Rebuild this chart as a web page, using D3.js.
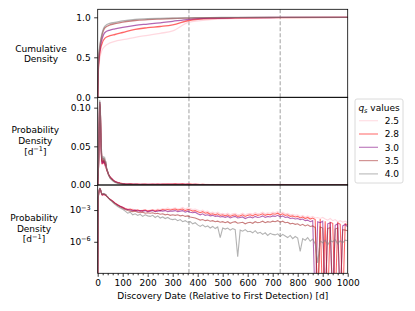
<!DOCTYPE html>
<html>
<head>
<meta charset="utf-8">
<script src="https://cdn.jsdelivr.net/npm/d3@7"></script>
<style>
body { margin: 0; background: #fff; }
svg { display: block; font-family: "DejaVu Sans", sans-serif; }
</style>
</head>
<body>
<div id="chart"></div>
<script>
// q_s series shown in the legend
var qsValues = ["2.5", "2.8", "3.0", "3.5", "4.0"];
var qsColors = ["#ffc0cb", "#ff0000", "#800080", "#a52a2a", "#808080"];

// cumulative density
var cdfDays = [0, 3, 9, 16, 29, 49, 69, 100, 150, 200, 250, 300, 365, 450, 550, 730, 1000];
var cdf25 = [0, 0.33, 0.50, 0.58, 0.64, 0.68, 0.70, 0.72, 0.75, 0.775, 0.80, 0.83, 0.94, 0.97, 0.985, 0.995, 1.0];
var cdf28 = [0, 0.37, 0.56, 0.66, 0.74, 0.77, 0.785, 0.81, 0.85, 0.87, 0.885, 0.905, 0.96, 0.985, 0.992, 0.997, 1.0];
var cdf30 = [0, 0.40, 0.60, 0.71, 0.81, 0.84, 0.855, 0.875, 0.90, 0.915, 0.93, 0.95, 0.975, 0.99, 0.995, 0.998, 1.0];
var cdf35 = [0, 0.43, 0.64, 0.76, 0.87, 0.905, 0.92, 0.94, 0.96, 0.97, 0.978, 0.985, 0.99, 0.995, 0.997, 0.999, 1.0];
var cdf40 = [0, 0.45, 0.66, 0.78, 0.89, 0.925, 0.935, 0.955, 0.975, 0.982, 0.987, 0.99, 0.994, 0.997, 0.998, 0.999, 1.0];

// probability density (log10 of d^-1), -12 = empty bin
var pdfDays = [0, 2, 4, 6, 8, 10, 12, 14, 16, 18, 20, 22, 24, 26, 28, 30, 32, 35, 38, 41, 44, 47, 50, 55, 60, 65, 70, 75, 80, 90, 100]
  .concat(d3.range(110, 1010, 10));
var logPdf25 = [-12,-1.9,-1.45,-1.12,-0.97,-1.0,-1.15,-1.35,-1.5,-1.58,-1.52,-1.56,-1.5,-1.55,-1.53,-1.6,-1.58,-1.7,-1.76,-1.82,-1.9,-1.95,-2.0,-2.05,-2.15,-2.25,-2.35,-2.42,-2.5,-2.62,-2.72,
  -2.85,-2.9,-2.95,-2.9,-3.0,-2.95,-3.05,-3.0,-2.95,-3.05,
  -3.0,-2.95,-3.0,-2.9,-2.95,-2.85,-2.9,-2.8,-2.9,-2.85,
  -2.8,-2.9,-2.85,-2.75,-2.9,-2.8,-2.85,-2.95,-2.9,-3.0,
  -3.1,-3.0,-3.15,-3.1,-3.25,-3.2,-3.3,-3.2,-3.35,-3.3,
  -3.4,-3.3,-3.45,-3.35,-3.3,-3.45,-3.4,-3.3,-3.45,-3.35,
  -3.3,-3.4,-3.25,-3.35,-3.3,-3.2,-3.35,-3.25,-3.3,-3.2,
  -3.25,-3.15,-3.3,-3.2,-3.35,-3.3,-3.45,-3.4,-3.5,-3.45,
  -3.6,-3.5,-3.65,-3.55,-3.7,-3.6,-3.75,-3.7,-3.8,-3.7,
  -3.85,-3.95,-3.8,-4.0,-3.9,-4.1,-4.0,-4.15,-4.05,-4.2];
var logPdf28 = [-12,-1.88,-1.47,-1.14,-0.98,-1.0,-1.13,-1.33,-1.48,-1.57,-1.52,-1.55,-1.5,-1.54,-1.53,-1.6,-1.57,-1.68,-1.74,-1.8,-1.88,-1.93,-2.0,-2.07,-2.16,-2.26,-2.36,-2.43,-2.5,-2.63,-2.73,
  -2.85,-2.95,-2.9,-3.0,-3.05,-3.0,-3.1,-3.05,-3.0,-3.1,
  -3.05,-3.0,-3.1,-3.0,-3.05,-2.95,-3.0,-2.95,-3.0,-2.95,
  -2.9,-3.0,-2.95,-2.9,-3.05,-2.95,-3.0,-3.1,-3.05,-3.15,
  -3.25,-3.15,-3.3,-3.25,-3.4,-3.35,-3.45,-3.35,-3.5,-3.45,
  -3.55,-3.45,-3.6,-3.5,-3.45,-3.6,-3.55,-3.45,-3.6,-3.5,
  -3.45,-3.55,-3.4,-3.5,-3.45,-3.35,-3.5,-3.4,-3.45,-3.35,
  -3.4,-3.3,-3.45,-3.35,-3.5,-3.45,-3.6,-3.55,-3.65,-3.6,
  -3.75,-3.65,-3.8,-3.7,-3.85,-3.75,-3.9,-12,-3.85,-12,
  -4.05,-12,-4.15,-4.25,-12,-4.2,-4.35,-12,-4.3,-4.4];
var logPdf30 = [-12,-1.87,-1.46,-1.13,-0.97,-1.0,-1.14,-1.34,-1.48,-1.56,-1.51,-1.54,-1.49,-1.53,-1.52,-1.58,-1.56,-1.67,-1.73,-1.8,-1.88,-1.94,-2.01,-2.08,-2.17,-2.27,-2.37,-2.44,-2.52,-2.65,-2.75,
  -2.9,-2.95,-3.0,-3.05,-3.0,-3.1,-3.05,-3.1,-3.05,-3.15,
  -3.1,-3.05,-3.15,-3.1,-3.05,-3.1,-3.05,-3.15,-3.1,-3.1,
  -3.05,-3.15,-3.1,-3.05,-3.2,-3.1,-3.2,-3.25,-3.2,-3.35,
  -3.45,-3.35,-3.5,-3.45,-3.55,-3.5,-3.6,-3.55,-3.65,-3.6,
  -3.7,-3.6,-3.75,-3.65,-3.6,-3.75,-3.7,-3.65,-3.8,-3.7,
  -3.65,-3.75,-3.6,-3.7,-3.65,-3.55,-3.7,-3.6,-3.65,-3.55,
  -3.6,-3.5,-3.65,-3.55,-3.7,-3.65,-3.8,-3.75,-3.85,-3.8,
  -3.9,-3.85,-4.0,-3.95,-4.1,-4.0,-12,-4.1,-4.2,-4.05,
  -12,-4.3,-4.2,-12,-4.45,-4.3,-12,-4.5,-4.35,-4.6];
var logPdf35 = [-12,-1.86,-1.44,-1.12,-0.97,-1.0,-1.12,-1.31,-1.45,-1.52,-1.48,-1.5,-1.46,-1.5,-1.49,-1.55,-1.54,-1.66,-1.73,-1.8,-1.89,-1.95,-2.03,-2.11,-2.21,-2.31,-2.41,-2.49,-2.57,-2.7,-2.82,
  -2.95,-3.05,-3.1,-3.15,-3.1,-3.2,-3.25,-3.2,-3.3,-3.25,
  -3.3,-3.25,-3.35,-3.3,-3.4,-3.35,-3.45,-3.4,-3.5,-3.45,
  -3.5,-3.45,-3.55,-3.5,-3.6,-3.55,-3.65,-3.7,-3.75,-3.85,
  -3.95,-3.9,-4.0,-3.95,-4.05,-4.0,-4.1,-4.05,-4.15,-4.1,
  -4.2,-4.1,-4.25,-4.15,-4.1,-4.25,-4.2,-4.15,-4.3,-4.2,
  -4.15,-4.25,-4.1,-4.2,-4.15,-4.05,-4.2,-4.1,-4.15,-4.05,
  -4.1,-4.0,-4.15,-4.05,-4.2,-4.15,-4.3,-4.25,-4.35,-4.3,
  -4.45,-4.35,-4.5,-4.4,-4.55,-4.5,-4.65,-12,-4.6,-4.7,
  -12,-4.75,-4.65,-12,-4.8,-4.7,-12,-4.85,-4.9,-4.95];
var logPdf40 = [-12,-1.85,-1.43,-1.11,-0.96,-0.99,-1.1,-1.28,-1.42,-1.48,-1.45,-1.47,-1.43,-1.47,-1.46,-1.52,-1.52,-1.64,-1.72,-1.8,-1.9,-1.97,-2.06,-2.16,-2.27,-2.38,-2.49,-2.57,-2.66,-2.8,-2.93,
  -3.1,-3.3,-3.2,-3.45,-3.35,-3.5,-3.4,-3.6,-3.45,-3.55,
  -3.6,-3.5,-3.7,-3.55,-3.75,-3.65,-3.8,-3.7,-3.85,-3.9,
  -3.85,-4.0,-3.9,-4.1,-4.0,-4.15,-4.1,-4.3,-4.2,-4.4,
  -4.55,-4.4,-4.6,-4.5,-4.7,-4.55,-4.75,-4.6,-5.6,-4.7,
  -4.8,-4.7,-4.9,-4.75,-4.85,-7.4,-4.9,-5.0,-4.85,-5.05,
  -5.0,-5.15,-4.95,-5.2,-5.1,-5.3,-5.15,-5.4,-5.2,-5.3,
  -5.35,-5.25,-5.5,-5.3,-5.45,-5.6,-5.4,-5.7,-5.5,-5.65,
  -6.9,-5.7,-5.85,-5.6,-5.95,-5.75,-6.2,-8.0,-5.9,-6.1,
  -5.85,-6.3,-5.9,-6.0,-5.8,-6.2,-5.9,-6.1,-5.85,-5.9];

var markerDays = [365, 730];
var xTicks = [0, 100, 200, 300, 400, 500, 600, 700, 800, 900, 1000];
var cdfTicks = [0, 0.5, 1.0];
var pdfTicks = [0, 0.05, 0.10];
var logTicks = [-3, -6];

var cdfSeries = [cdf25, cdf28, cdf30, cdf35, cdf40];
var pdfSeries = [logPdf25, logPdf28, logPdf30, logPdf35, logPdf40];

var width = 415, height = 311;
var svg = d3.select("#chart").append("svg")
    .attr("width", width)
    .attr("height", height);

var x = d3.scaleLinear().domain([0, 1000]).range([97.7, 347.7]);

var yCdf = d3.scaleLinear().domain([0, 1.1]).range([97.3, 9.3]);
var yPdf = d3.scaleLinear().domain([0, 0.1134]).range([185, 97.3]);
var yLog = d3.scaleLog().domain([Math.pow(10, -8.98), Math.pow(10, -0.63)]).range([273.3, 185]);

var panels = [
    {id: "p0", y: yCdf, top: 9.3, bottom: 97.3},
    {id: "p1", y: yPdf, top: 97.3, bottom: 185},
    {id: "p2", y: yLog, top: 185, bottom: 273.3}
];

var defs = svg.append("defs");
panels.forEach(function(p) {
    defs.append("clipPath").attr("id", "clip-" + p.id)
        .append("rect")
        .attr("x", x(0)).attr("y", p.top)
        .attr("width", x(1000) - x(0)).attr("height", p.bottom - p.top);
});

var lineOpacity = 0.6;

// dashed markers (1 and 2 years)
panels.forEach(function(p) {
    svg.append("g").selectAll("line")
        .data(markerDays)
        .enter().append("line")
        .attr("x1", function(d) { return x(d); })
        .attr("x2", function(d) { return x(d); })
        .attr("y1", p.top).attr("y2", p.bottom)
        .style("stroke", "#b0b0b0")
        .style("stroke-width", 1.2)
        .style("stroke-dasharray", "4,2");
});

// top: cumulative density
var cdfLine = d3.line()
    .x(function(d, i) { return x(cdfDays[i]); })
    .y(function(d) { return yCdf(d); })
    .curve(d3.curveMonotoneX);
svg.append("g").attr("clip-path", "url(#clip-p0)")
    .selectAll("path")
    .data(cdfSeries)
    .enter().append("path")
    .attr("d", cdfLine)
    .style("fill", "none")
    .style("stroke", function(d, i) { return qsColors[i]; })
    .style("stroke-opacity", lineOpacity)
    .style("stroke-width", 1.3);

// middle: probability density (linear)
var pdfLine = d3.line()
    .x(function(d, i) { return x(pdfDays[i]); })
    .y(function(d) { return yPdf(Math.pow(10, d)); });
svg.append("g").attr("clip-path", "url(#clip-p1)")
    .selectAll("path")
    .data(pdfSeries)
    .enter().append("path")
    .attr("d", pdfLine)
    .style("fill", "none")
    .style("stroke", function(d, i) { return qsColors[i]; })
    .style("stroke-opacity", lineOpacity)
    .style("stroke-width", 1.3);

// bottom: probability density (log)
var logLine = d3.line()
    .x(function(d, i) { return x(pdfDays[i]); })
    .y(function(d) { return yLog(Math.pow(10, d)); });
svg.append("g").attr("clip-path", "url(#clip-p2)")
    .selectAll("path")
    .data(pdfSeries)
    .enter().append("path")
    .attr("d", logLine)
    .style("fill", "none")
    .style("stroke", function(d, i) { return qsColors[i]; })
    .style("stroke-opacity", lineOpacity)
    .style("stroke-width", 1.1);

// axes
function styleAxis(g) {
    g.select(".domain").remove();
    g.selectAll(".tick line").style("stroke", "#000").style("stroke-width", 0.8);
    g.selectAll(".tick text").style("font-size", "9px").style("fill", "#000")
        .style("font-family", "'DejaVu Sans', sans-serif");
}

svg.append("g").attr("transform", "translate(" + x(0) + ",0)")
    .call(d3.axisLeft(yCdf).tickValues(cdfTicks).tickSize(3.5).tickPadding(3.5)
        .tickFormat(d3.format(".1f")))
    .call(styleAxis);

svg.append("g").attr("transform", "translate(" + x(0) + ",0)")
    .call(d3.axisLeft(yPdf).tickValues(pdfTicks).tickSize(3.5).tickPadding(3.5)
        .tickFormat(d3.format(".2f")))
    .call(styleAxis);

var logAxis = svg.append("g").attr("transform", "translate(" + x(0) + ",0)")
    .call(d3.axisLeft(yLog).tickValues(logTicks.map(function(e) { return Math.pow(10, e); }))
        .tickSize(3.5).tickPadding(3.5).tickFormat(function() { return ""; }))
    .call(styleAxis);
logAxis.selectAll(".tick text").each(function(d) {
    var t = d3.select(this);
    var e = Math.round(Math.log10(d));
    t.append("tspan").text("10");
    t.append("tspan").attr("dy", -3.8).style("font-size", "6.5px").text("\u2212" + Math.abs(e));
});

svg.append("g").attr("transform", "translate(0," + yLog.range()[0] + ")")
    .call(d3.axisBottom(x).tickValues(xTicks).tickSize(3.5).tickPadding(2.5).tickFormat(d3.format("d")))
    .call(styleAxis);

svg.append("g").attr("transform", "translate(0," + yLog.range()[0] + ")")
    .call(d3.axisBottom(x).tickValues(d3.range(20, 1000, 20).filter(function(d) { return d % 100 !== 0; }))
        .tickSize(2).tickFormat(""))
    .call(styleAxis);

// frames
panels.forEach(function(p) {
    svg.append("rect")
        .attr("x", x(0)).attr("y", p.top)
        .attr("width", x(1000) - x(0)).attr("height", p.bottom - p.top)
        .style("fill", "none").style("stroke", "#000").style("stroke-width", 0.8);
});

// y labels
function yLabel(cx, lines, baseY) {
    var t = svg.append("text")
        .attr("text-anchor", "middle")
        .style("font-size", "9px").style("fill", "#000");
    lines.forEach(function(l, i) {
        var ts = t.append("tspan").attr("x", cx).attr("y", baseY + i * 10.7);
        if (l === "unit") {
            ts.text("[d");
            ts.append("tspan").attr("dy", -3.5).style("font-size", "6.5px").text("\u22121");
            ts.append("tspan").attr("dy", 3.5).text("]");
        } else {
            ts.text(l);
        }
    });
}
yLabel(41, ["Cumulative", "Density"], 51.5);
yLabel(35.3, ["Probability", "Density", "unit"], 133.3);
yLabel(34, ["Probability", "Density", "unit"], 221);

svg.append("text")
    .attr("x", (x(0) + x(1000)) / 2).attr("y", 298.5)
    .attr("text-anchor", "middle")
    .style("font-size", "9px").style("fill", "#000")
    .text("Discovery Date (Relative to First Detection) [d]");

// legend
var legend = svg.append("g").attr("transform", "translate(355,99)");
legend.append("rect")
    .attr("width", 48).attr("height", 84).attr("rx", 2)
    .style("fill", "#fff").style("stroke", "#d0d0d0").style("stroke-width", 0.8);
var title = legend.append("text")
    .attr("x", 24).attr("y", 11.5).attr("text-anchor", "middle")
    .style("font-size", "9px").style("fill", "#000");
title.append("tspan").style("font-style", "italic").text("q");
title.append("tspan").attr("dy", 2).style("font-style", "italic").style("font-size", "6.5px").text("s");
title.append("tspan").attr("dy", -2).text(" values");

var items = legend.selectAll(".item")
    .data(qsValues)
    .enter().append("g")
    .attr("transform", function(d, i) { return "translate(0," + (21.7 + i * 13.3) + ")"; });
items.append("line")
    .attr("x1", 4).attr("x2", 23)
    .style("stroke", function(d, i) { return qsColors[i]; })
    .style("stroke-opacity", 0.5)
    .style("stroke-width", 1.2);
items.append("text")
    .attr("x", 44).attr("y", 3.3).attr("text-anchor", "end")
    .style("font-size", "9px").style("fill", "#000")
    .text(function(d) { return d; });
</script>
</body>
</html>
